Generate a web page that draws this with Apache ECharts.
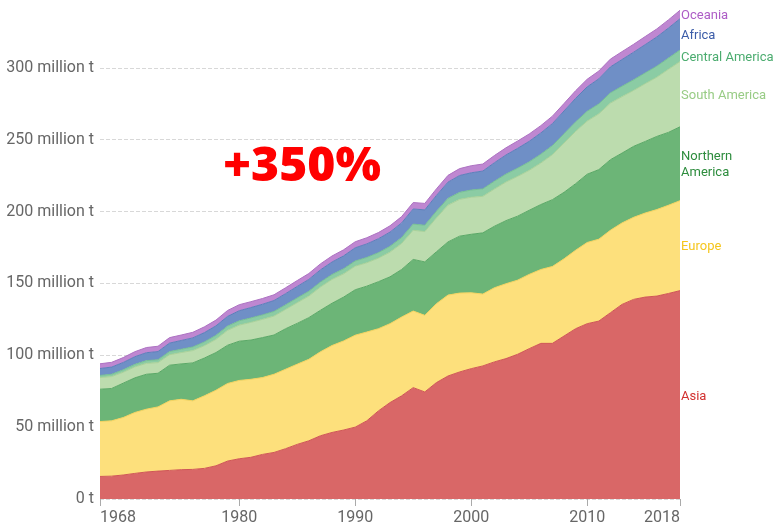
<!DOCTYPE html>
<html><head><meta charset="utf-8">
<script src="https://cdn.jsdelivr.net/npm/echarts@6/dist/echarts.min.js"></script>
<style>html,body{margin:0;padding:0;background:#fff}#c{width:775px;height:526px}</style>
</head><body><div id="c"></div>
<script>
const years = [1968,1969,1970,1971,1972,1973,1974,1975,1976,1977,1978,1979,1980,
1981,1982,1983,1984,1985,1986,1987,1988,1989,1990,
1991,1992,1993,1994,1995,1996,1997,1998,1999,2000,
2001,2002,2003,2004,2005,2006,2007,2008,2009,2010,
2011,2012,2013,2014,2015,2016,2017,2018];
const xTickYears = [1968,1980,1990,2000,2010,2018];
const yTickValues = [0,50,100,150,200,250,300];

const asia = [15.7,15.9,16.7,17.8,18.8,19.4,19.9,20.4,20.6,21.3,23.1,26.4,28.0,
29.0,31.0,32.4,35.0,38.0,40.5,44.0,46.3,48.0,50.0,
54.4,61.3,67.1,71.8,77.5,74.5,81.0,85.6,88.4,90.7,
92.6,95.4,97.7,100.7,104.6,108.3,108.3,113.4,118.5,122.0,
123.8,129.6,135.4,138.9,140.5,141.2,143.0,145.0];
const europe = [38.2,38.5,40.0,42.4,43.7,44.7,48.4,49.0,47.7,50.5,52.6,54.0,54.5,
54.3,53.5,54.4,55.3,55.8,56.7,58.4,60.5,62.0,64.0,
61.8,57.2,54.9,54.8,53.3,53.3,54.9,56.3,54.9,52.8,
50.0,51.6,52.1,51.6,51.7,51.4,53.5,53.7,54.6,56.5,
57.0,57.4,56.7,57.1,58.5,60.2,61.4,62.6];
const northernAmerica = [22.5,22.5,23.9,24.1,24.3,23.4,24.8,24.6,26.4,26.3,26.2,26.6,27.3,
27.3,27.8,27.3,28.2,28.4,29.0,28.9,29.4,30.5,31.6,
31.9,32.7,32.6,33.1,35.9,37.2,36.1,37.0,39.6,40.7,
42.6,42.8,43.9,44.5,44.6,45.2,46.5,46.3,46.3,47.5,
48.4,49.1,48.6,49.4,49.8,50.9,50.7,51.4];
const southAmerica = [8.1,8.3,7.6,7.6,7.6,7.4,7.3,7.9,8.6,8.6,9.2,10.4,11.2,
12.3,12.7,13.2,13.4,14.4,15.0,16.2,16.6,16.2,16.4,
16.3,16.4,17.2,18.1,20.3,21.1,23.6,25.6,25.6,25.8,
25.4,25.9,26.9,27.7,27.8,28.9,31.3,34.3,36.4,37.0,
38.8,39.4,39.3,38.9,40.2,41.2,43.9,45.4];
const centralAmerica = [1.5,1.6,1.7,1.8,1.9,2.0,2.2,2.3,2.5,2.6,2.8,2.9,3.0,
3.1,3.1,3.2,3.2,3.3,3.3,3.4,3.4,3.5,3.6,
3.7,3.8,4.0,4.1,4.3,4.4,4.6,4.7,4.9,5.0,
5.2,5.4,5.5,5.7,5.9,6.1,6.3,6.4,6.6,6.8,
6.9,7.1,7.2,7.4,7.5,7.7,7.8,8.0];
const africa = [4.8,5.0,5.1,5.3,5.5,5.7,5.9,6.1,6.3,6.5,6.6,6.8,7.0,
7.2,7.4,7.6,7.8,8.0,8.3,8.5,8.7,9.0,9.2,
9.4,9.7,9.9,10.2,10.5,10.7,11.0,11.3,11.7,12.0,
12.4,12.9,13.3,13.8,14.3,14.8,15.3,15.9,16.4,17.0,
17.5,18.1,18.6,19.2,19.7,20.3,20.9,21.8];
const oceania = [3.3,3.3,3.4,3.5,3.6,3.7,3.8,3.8,3.9,4.0,4.0,4.1,4.2,
4.1,4.0,4.0,4.1,4.1,4.1,4.2,4.2,4.2,4.2,
4.3,4.3,4.4,4.4,4.5,4.5,4.6,4.7,4.8,4.9,
4.9,5.0,5.0,5.1,5.1,5.1,5.2,5.2,5.3,5.3,
5.4,5.4,5.5,5.5,5.6,5.6,5.7,5.9];

const seriesDefs = [
  {name:'Asia', label:'Asia', data:asia, fill:'#d96767', line:'#cf5555', text:'#d2302f'},
  {name:'Europe', label:'Europe', data:europe, fill:'#fde07c', line:'#f5d35e', text:'#f5c61e'},
  {name:'Northern America', label:'Northern\nAmerica', data:northernAmerica, fill:'#6cb577', line:'#5aa866', text:'#2d8c3d'},
  {name:'South America', label:'South America', data:southAmerica, fill:'#bcdcae', line:'#a9d198', text:'#98cc85'},
  {name:'Central America', label:'Central America', data:centralAmerica, fill:'#8bcca4', line:'#76c093', text:'#4bac6f'},
  {name:'Africa', label:'Africa', data:africa, fill:'#6f8fc6', line:'#5c7eba', text:'#3b5ca8'},
  {name:'Oceania', label:'Oceania', data:oceania, fill:'#bf87d1', line:'#ad72c2', text:'#ad5cc6'}
];

const chart = echarts.init(document.getElementById('c'), null, {renderer:'canvas'});
const FONT = 'Roboto, "Liberation Sans", sans-serif';
const Y_MAX = 492 / 1.44;
chart.setOption({
  animation:false,
  grid:{left:100, right:95, top:8, bottom:26},
  xAxis:{
    type:'category', data:years.map(String), boundaryGap:false,
    axisLine:{show:false},
    axisTick:{show:true, length:7, lineStyle:{color:'#aaa'}, interval:(i,v)=>xTickYears.includes(+v)},
    axisLabel:{interval:(i,v)=>xTickYears.includes(+v), color:'#666', fontSize:16, fontFamily:FONT, margin:11,
      alignMinLabel:'left', alignMaxLabel:'right'},
    splitLine:{show:false}
  },
  yAxis:{
    type:'value', min:0, max:Y_MAX, interval:50,
    axisLabel:{formatter:v=> yTickValues.includes(v) ? (v===0?'0 t':v+' million t') : '', color:'#666', fontSize:16, fontFamily:FONT, margin:6, showMaxLabel:false},
    splitLine:{lineStyle:{type:'dashed', color:'#d8d8d8'}, showMaxLine:false},
    axisLine:{show:false}, axisTick:{show:false}
  },
  series: seriesDefs.map(s=>({
    name:s.name, type:'line', stack:'total', data:s.data, symbol:'none', showSymbol:false,
    lineStyle:{width:1, color:s.line}, itemStyle:{color:s.fill},
    areaStyle:{color:s.fill, opacity:1}, emphasis:{disabled:true}, z:2
  }))
});

// right-side labels placed at the middle of each band at the last year
const last = years.length - 1;
let cum = 0;
const graphics = [];
seriesDefs.forEach(s=>{
  const lo = cum; const hi = cum + s.data[last]; cum = hi;
  const p = chart.convertToPixel({xAxisIndex:0, yAxisIndex:0}, [String(years[last]), (lo+hi)/2]);
  graphics.push({type:'text', x:p[0]+1, y:p[1]+1.5, style:{text:s.label, fill:s.text, font:'13px '+FONT, verticalAlign:'middle', align:'left', lineHeight:16}});
});
graphics.push({type:'text', x:302, y:167, style:{text:'+350%', fill:'#ff0000', font:'800 48px "Open Sans", Roboto, sans-serif', align:'center', verticalAlign:'middle'}});
chart.setOption({graphic:graphics});
</script></body></html>
